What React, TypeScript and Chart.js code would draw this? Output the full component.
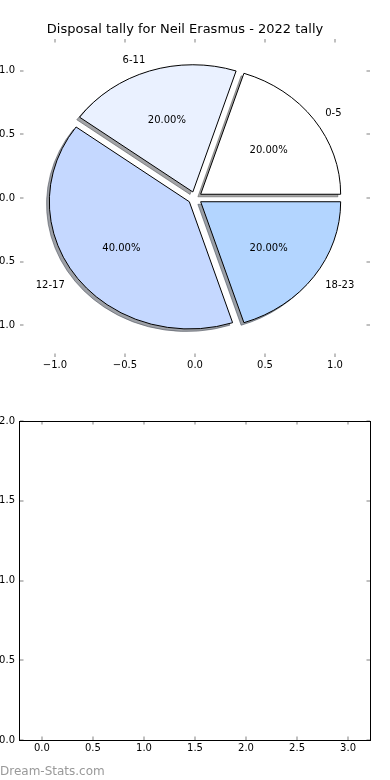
import React, { useEffect, useRef } from "react";
import { Chart, registerables } from "chart.js";

Chart.register(...registerables);

const TITLE = "Disposal tally for Neil Erasmus - 2022 tally";
const sliceLabels = ["0-5", "6-11", "12-17", "18-23"];
const sliceValues = [1, 1, 2, 1];
const sliceColors = ["#ffffff", "#eaf1ff", "#c5d8ff", "#b3d5ff"];
const sliceExplode = [0.05, 0.05, 0.05, 0.05];
const pieTicks = [-1.0, -0.5, 0.0, 0.5, 1.0];
const emptyXTicks = [0, 0.5, 1, 1.5, 2, 2.5, 3];
const emptyYTicks = [0, 0.5, 1, 1.5, 2];
const WATERMARK = "Dream-Stats.com";

const FONT = "'DejaVu Sans', sans-serif";
const LABEL_DY = 1.5;

const fmt = (v: number) => (v < 0 ? "\u2212" : "") + Math.abs(v).toFixed(1);

function hexToRgb(h: string): [number, number, number] {
  const s = h.replace("#", "");
  return [
    parseInt(s.slice(0, 2), 16),
    parseInt(s.slice(2, 4), 16),
    parseInt(s.slice(4, 6), 16),
  ];
}

const tickMarkPlugin = {
  id: "tickMarks",
  afterDraw(chart: any) {
    const { ctx, chartArea: a } = chart;
    const xs = chart.scales.x;
    const ys = chart.scales.y;
    const L = 3.5;
    ctx.save();
    ctx.strokeStyle = "#c0c0c0";
    ctx.lineWidth = 2;
    ctx.beginPath();
    xs.ticks.forEach((t: any) => {
      const x = Math.round(xs.getPixelForValue(t.value));
      ctx.moveTo(x, a.top);
      ctx.lineTo(x, a.top + L);
      ctx.moveTo(x, a.bottom);
      ctx.lineTo(x, a.bottom - L);
    });
    ys.ticks.forEach((t: any) => {
      const y = Math.round(ys.getPixelForValue(t.value));
      ctx.moveTo(a.left, y);
      ctx.lineTo(a.left + L, y);
      ctx.moveTo(a.right, y);
      ctx.lineTo(a.right - L, y);
    });
    ctx.stroke();
    ctx.restore();
  },
};

const framePlugin = {
  id: "frame",
  afterDraw(chart: any) {
    const { ctx, chartArea: a } = chart;
    ctx.save();
    ctx.strokeStyle = "#000";
    ctx.lineWidth = 1;
    const x0 = Math.round(a.left) - 0.5;
    const x1 = Math.round(a.right) + 0.5;
    const y0 = Math.round(a.top) + 0.5;
    const y1 = Math.round(a.bottom) + 0.5;
    ctx.strokeRect(x0, y0, x1 - x0, y1 - y0);
    ctx.restore();
  },
};

const piePlugin = {
  id: "mplPie",
  afterDatasetsDraw(chart: any) {
    const ctx = chart.ctx;
    const xs = chart.scales.x;
    const ys = chart.scales.y;
    const total = sliceValues.reduce((a, b) => a + b, 0);
    const rx = Math.abs(xs.getPixelForValue(1) - xs.getPixelForValue(0));
    const ry = Math.abs(ys.getPixelForValue(1) - ys.getPixelForValue(0));
    let start = 0;
    const wedges = sliceValues.map((v, i) => {
      const t1 = start;
      const t2 = start + (360 * v) / total;
      start = t2;
      const mid = (((t1 + t2) / 2) * Math.PI) / 180;
      return {
        i,
        v,
        t1,
        t2,
        mid,
        cx: sliceExplode[i] * Math.cos(mid),
        cy: sliceExplode[i] * Math.sin(mid),
      };
    });
    const path = (cx: number, cy: number, t1: number, t2: number) => {
      const px = xs.getPixelForValue(cx);
      const py = ys.getPixelForValue(cy);
      ctx.beginPath();
      ctx.moveTo(px, py);
      ctx.ellipse(px, py, rx, ry, 0, (-t1 * Math.PI) / 180, (-t2 * Math.PI) / 180, true);
      ctx.closePath();
    };
    ctx.save();
    ctx.lineJoin = "miter";
    wedges.forEach((w) => {
      const [r, g, b] = hexToRgb(sliceColors[w.i]);
      const c = `rgba(${Math.round(r * 0.3)},${Math.round(g * 0.3)},${Math.round(b * 0.3)},0.5)`;
      path(w.cx - 0.02, w.cy - 0.02, w.t1, w.t2);
      ctx.fillStyle = c;
      ctx.fill();
      ctx.strokeStyle = c;
      ctx.lineWidth = 1;
      ctx.stroke();
    });
    wedges.forEach((w) => {
      path(w.cx, w.cy, w.t1, w.t2);
      ctx.fillStyle = sliceColors[w.i];
      ctx.fill();
      ctx.strokeStyle = "#000";
      ctx.lineWidth = 1;
      ctx.stroke();
    });
    ctx.fillStyle = "#000";
    ctx.font = `10px ${FONT}`;
    ctx.textBaseline = "middle";
    wedges.forEach((w) => {
      const lx = w.cx + 1.1 * Math.cos(w.mid);
      const ly = w.cy + 1.1 * Math.sin(w.mid);
      ctx.textAlign = lx > 0 ? "left" : "right";
      ctx.fillText(sliceLabels[w.i], xs.getPixelForValue(lx), ys.getPixelForValue(ly) + LABEL_DY);
      const tx = w.cx + 0.6 * Math.cos(w.mid);
      const ty = w.cy + 0.6 * Math.sin(w.mid);
      ctx.textAlign = "center";
      ctx.fillText(
        ((100 * w.v) / total).toFixed(2) + "%",
        xs.getPixelForValue(tx),
        ys.getPixelForValue(ty) + LABEL_DY
      );
    });
    ctx.restore();
  },
};

function axis(min: number, max: number, ticks: number[], extra: any) {
  return {
    type: "linear",
    min,
    max,
    afterBuildTicks: (s: any) => {
      s.ticks = ticks.map((v) => ({ value: v }));
    },
    grid: { display: false, drawTicks: false },
    border: { display: false },
    ticks: {
      autoSkip: false,
      color: "#000",
      font: { family: FONT, size: 10 },
      callback: (v: any) => fmt(Number(v)),
      ...(extra.ticks || {}),
    },
    afterFit: extra.afterFit,
  };
}

export default function App() {
  const topRef = useRef<HTMLCanvasElement | null>(null);
  const botRef = useRef<HTMLCanvasElement | null>(null);

  useEffect(() => {
    document.body.style.margin = "0";
    Chart.defaults.font.family = FONT;
    const top = new Chart(topRef.current as HTMLCanvasElement, {
      type: "scatter",
      data: { datasets: [{ data: [] }] },
      options: {
        animation: false,
        responsive: false,
        devicePixelRatio: 1,
        events: [],
        layout: { padding: { left: 0, right: 20, top: 0, bottom: 0 } },
        plugins: {
          legend: { display: false },
          tooltip: { enabled: false },
          title: {
            display: true,
            text: TITLE,
            color: "#000",
            font: { family: FONT, size: 13, weight: "normal", lineHeight: 1.2 },
            padding: { top: 21.7, bottom: 1.7 },
          },
        },
        scales: {
          x: axis(-1.25, 1.25, pieTicks, {
            ticks: { padding: 2 },
            afterFit: (s: any) => {
              s.height = 33;
            },
          }),
          y: axis(-1.25, 1.25, pieTicks, {
            ticks: { padding: 5 },
            afterFit: (s: any) => {
              s.width = 20;
            },
          }),
        },
      } as any,
      plugins: [piePlugin, tickMarkPlugin],
    });

    const bot = new Chart(botRef.current as HTMLCanvasElement, {
      type: "scatter",
      data: { datasets: [{ data: [] }] },
      options: {
        animation: false,
        responsive: false,
        devicePixelRatio: 1,
        events: [],
        layout: { padding: { left: 0, right: 20, top: 31, bottom: 0 } },
        plugins: {
          legend: { display: false },
          tooltip: { enabled: false },
          title: { display: false },
        },
        scales: {
          x: axis(-0.215, 3.215, emptyXTicks, {
            ticks: { padding: 2 },
            afterFit: (s: any) => {
              s.height = 40;
            },
          }),
          y: axis(0, 2, emptyYTicks, {
            ticks: { padding: 5 },
            afterFit: (s: any) => {
              s.width = 20;
            },
          }),
        },
      } as any,
      plugins: [tickMarkPlugin, framePlugin],
    });

    return () => {
      top.destroy();
      bot.destroy();
    };
  }, []);

  return (
    <div style={{ position: "relative", width: 390, height: 780, background: "#fff", overflow: "hidden" }}>
      <canvas ref={topRef} width={390} height={390} style={{ display: "block", width: 390, height: 390 }} />
      <canvas ref={botRef} width={390} height={390} style={{ display: "block", width: 390, height: 390 }} />
      <div
        style={{
          position: "absolute",
          left: 0,
          top: 764,
          fontFamily: FONT,
          fontSize: 12,
          lineHeight: "14px",
          color: "#999999",
          whiteSpace: "nowrap",
        }}
      >
        {WATERMARK}
      </div>
    </div>
  );
}
